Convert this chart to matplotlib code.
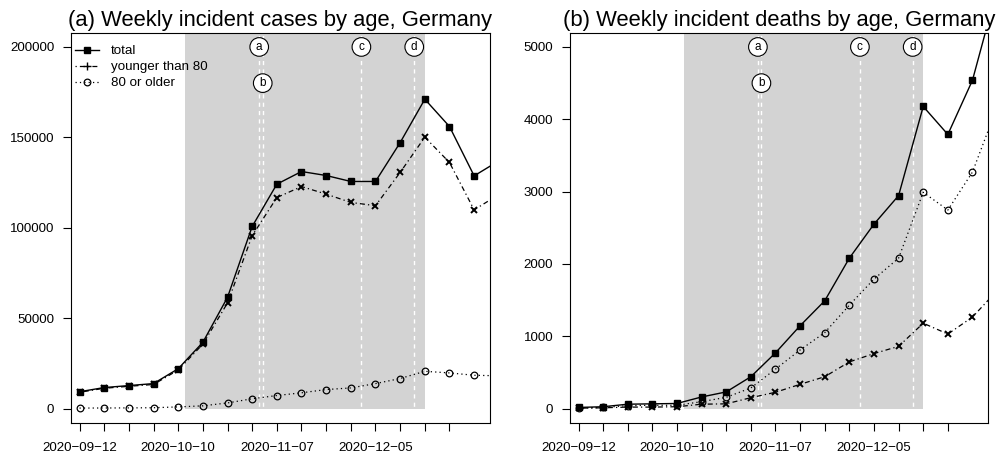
import matplotlib
matplotlib.use("Agg")
import matplotlib.pyplot as plt
from matplotlib.lines import Line2D
import pandas as pd

plt.rcParams['font.family'] = ['Liberation Sans', 'DejaVu Sans']

# ---------------- data ----------------
weeks = ["2020-09-12", "2020-09-19", "2020-09-26", "2020-10-03", "2020-10-10",
         "2020-10-17", "2020-10-24", "2020-10-31", "2020-11-07", "2020-11-14",
         "2020-11-21", "2020-11-28", "2020-12-05", "2020-12-12", "2020-12-19",
         "2020-12-26", "2021-01-02", "2021-01-09"]

cases_total = [9300, 11600, 12700, 13800, 22000, 36600, 61500, 100700, 124100,
               131100, 128900, 125600, 125600, 147100, 171100, 156000, 128700, 137000]
cases_young = [9000, 11200, 12300, 13300, 21300, 35600, 58400, 95600, 116700,
               122800, 118600, 114000, 112200, 130600, 150100, 136100, 109900, 118400]
cases_old = [250, 300, 350, 450, 900, 1500, 3100, 5400, 7200,
             8700, 10500, 11400, 13800, 16600, 20600, 19700, 18400, 18100]

deaths_total = [15, 25, 60, 65, 70, 160, 230, 440, 770, 1145, 1490, 2080,
                2550, 2945, 4177, 3790, 4540, 5800]
deaths_young = [5, 10, 20, 20, 25, 60, 65, 150, 225, 335, 440, 645,
                760, 860, 1180, 1030, 1265, 1630]
deaths_old = [5, 15, 40, 45, 45, 95, 155, 285, 545, 810, 1050, 1430,
              1790, 2080, 2990, 2745, 3270, 4170]

tick_weeks = weeks[:16]
label_weeks = ["2020-09-12", "2020-10-10", "2020-11-07", "2020-12-05"]

shade_period = ["2020-10-12", "2020-12-19"]
event_dates = ["2020-11-02", "2020-11-03", "2020-12-01", "2020-12-16"]
event_labels = ["a", "b", "c", "d"]
event_level = [1.0, 0.9, 1.0, 1.0]

x_range = ["2020-09-09 14:00", "2021-01-06 12:00"]

titles = ["(a) Weekly incident cases by age, Germany",
          "(b) Weekly incident deaths by age, Germany"]
y_ticks_cases = [0, 50000, 100000, 150000, 200000]
y_ticks_deaths = [0, 1000, 2000, 3000, 4000, 5000]
legend_labels = ["total", "younger than 80", "80 or older"]

# ---------------- plotting ----------------
x = pd.to_datetime(weeks)
xt = pd.to_datetime(tick_weeks)
xlab = [t.strftime("%Y-%m-%d").replace("-", "\u2212") if t.strftime("%Y-%m-%d") in label_weeks else ""
        for t in xt]

W, H = 998, 458
fig = plt.figure(figsize=(W / 100, H / 100), dpi=100)
ax1 = fig.add_axes([71 / W, (H - 423) / H, 419 / W, 390.5 / H])
ax2 = fig.add_axes([570 / W, (H - 423) / H, 418.3 / W, 390.5 / H])

panels = [
    (ax1, cases_total, cases_young, cases_old, y_ticks_cases, titles[0]),
    (ax2, deaths_total, deaths_young, deaths_old, y_ticks_deaths, titles[1]),
]

fs = 9.6
for ax, tot, yng, old, yt, title in panels:
    ymax = yt[-1]
    ax.set_ylim(-0.04 * ymax, 1.04 * ymax)
    ax.set_xlim(pd.to_datetime(x_range[0]), pd.to_datetime(x_range[1]))

    s0, s1 = pd.to_datetime(shade_period)
    ax.fill_between([s0, s1], 0, 1.04 * ymax, color="#d3d3d3", lw=0, zorder=0)
    for d in pd.to_datetime(event_dates):
        ax.axvline(d, color="white", lw=1.0, ls=(0, (3, 3)), zorder=1)
    for d, lab, lev in zip(pd.to_datetime(event_dates), event_labels, event_level):
        ax.text(d, lev * ymax, lab, ha="center", va="center", fontsize=8.5, zorder=5,
                bbox=dict(boxstyle="circle,pad=0.28", fc="white", ec="black", lw=0.8))

    ax.plot(x, tot, color="black", lw=1.0, marker="s", ms=4.3, zorder=3)
    ax.plot(x, yng, color="black", lw=0.9, ls=(0, (1, 2.5, 4, 2.5)), marker="x", ms=5,
            mew=1.4, zorder=3)
    ax.plot(x, old, color="black", lw=0.9, ls=(0, (1, 2.5)), marker="o", ms=4.8,
            mfc="none", mew=0.9, zorder=3)

    ax.set_xticks(xt)
    ax.set_xticklabels(xlab, fontsize=fs)
    ax.set_yticks(yt)
    ax.set_yticklabels([str(v) for v in yt], fontsize=fs)
    ax.tick_params(axis="both", direction="out", length=5.5, width=0.8, color="black")
    ax.tick_params(axis="x", pad=8)
    ax.tick_params(axis="y", pad=6.5)
    for sp in ax.spines.values():
        sp.set_linewidth(0.8)
        sp.set_color("black")
    ax.set_title(title, fontsize=15.8, pad=5)

handles = [
    Line2D([], [], color="black", lw=1.0, marker="s", ms=4.3),
    Line2D([], [], color="black", lw=0.9, ls=(0, (1, 2.5, 4, 2.5)), marker="+", ms=6, mew=1.0),
    Line2D([], [], color="black", lw=0.9, ls=(0, (1, 2.5)), marker="o", ms=4.8, mfc="none", mew=0.9),
]
ax1.legend(handles, legend_labels, loc="upper left", bbox_to_anchor=(0.0095, 0.968),
           frameon=False, fontsize=fs, borderpad=0, borderaxespad=0,
           handlelength=1.8, handletextpad=0.9, labelspacing=0.28)

fig.savefig("out.png", dpi=100)
